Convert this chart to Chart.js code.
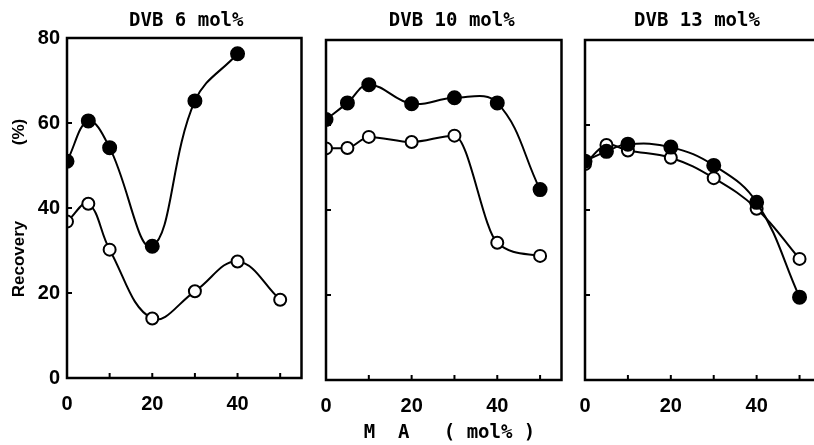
<!DOCTYPE html>
<html>
<head>
<meta charset="utf-8">
<script src="https://cdn.jsdelivr.net/npm/chart.js@4.4.1/dist/chart.umd.min.js"></script>
<style>
  html, body { margin: 0; padding: 0; background: #fff; }
  body { width: 814px; height: 445px; overflow: hidden; position: relative; }
  canvas { position: absolute; top: 0; }
</style>
</head>
<body>
<canvas id="panel-1" width="310" height="445" style="left:0px"></canvas>
<canvas id="panel-2" width="270" height="445" style="left:300px"></canvas>
<canvas id="panel-3" width="270" height="445" style="left:560px"></canvas>
<script>
// MA content (mol%)
const maValues = [0, 5, 10, 20, 30, 40, 50];
const maValuesShort = [0, 5, 10, 20, 30, 40];

const panelTitles = ['DVB 6 mol%', 'DVB 10 mol%', 'DVB 13 mol%'];

// recovery (%) — filled circles / open circles
const dvb6Filled = [51, 60.5, 54.2, 31, 65.2, 76.3];
const dvb6Open = [36.8, 41, 30.2, 14, 20.4, 27.4, 18.4];
const dvb10Filled = [61.3, 65.2, 69.5, 65, 66.4, 65.2, 44.8];
const dvb10Open = [54.5, 54.6, 57.2, 56, 57.5, 32.3, 29.2];
const dvb13Filled = [51.5, 53.8, 55.5, 54.8, 50.5, 41.8, 19.5];
const dvb13Open = [50.8, 55.3, 54, 52.3, 47.5, 40.3, 28.5];

const xTickMarks = [10, 20, 30, 40, 50];
const yTickMarks = [20, 40, 60];

const yTitle = 'Recovery                (%)';
const xTitle = ' M  A   ( mol% )';

function toPoints(xs, ys) {
  return ys.map(function(y, i) {
    return { x: xs[i], y: y };
  });
}

// frame, inward tick marks and panel title
// markers at MA = 0 are cut by the left axis like in the original figure
const framePlugin = {
  id: 'frame',
  beforeDatasetsDraw: function(chart) {
    const a = chart.chartArea;
    chart.ctx.save();
    chart.ctx.beginPath();
    chart.ctx.rect(a.left, a.top - 10, a.right - a.left + 10, a.bottom - a.top + 10);
    chart.ctx.clip();
  },
  afterDatasetsDraw: function(chart) {
    chart.ctx.restore();
  },
  afterDraw: function(chart, args, opts) {
    const ctx = chart.ctx;
    const a = chart.chartArea;
    const xs = chart.scales.x;
    const ys = chart.scales.y;
    ctx.save();
    ctx.strokeStyle = '#000';
    ctx.lineWidth = 2.5;
    ctx.strokeRect(a.left, a.top, a.right - a.left, a.bottom - a.top);
    ctx.lineWidth = 2;
    ctx.beginPath();
    xTickMarks.forEach(function(v) {
      const px = xs.getPixelForValue(v);
      ctx.moveTo(px, a.bottom);
      ctx.lineTo(px, a.bottom - 5);
    });
    yTickMarks.forEach(function(v) {
      const py = ys.getPixelForValue(v);
      ctx.moveTo(a.left, py);
      ctx.lineTo(a.left + 5, py);
    });
    ctx.stroke();
    ctx.fillStyle = '#000';
    ctx.font = 'bold 19px "DejaVu Sans Mono"';
    ctx.textAlign = 'center';
    ctx.textBaseline = 'middle';
    ctx.fillText(opts.text, (a.left + a.right) / 2 + (opts.dx || 0), 21);
    ctx.restore();
  }
};

function makeDataset(xs, ys, filled, monotone) {
  return {
    data: toPoints(xs, ys),
    borderColor: '#000',
    borderWidth: 2,
    pointRadius: filled ? 6.5 : 6,
    pointBorderWidth: 2,
    pointBackgroundColor: filled ? '#000' : '#fff',
    pointBorderColor: '#000',
    tension: 0.4,
    cubicInterpolationMode: monotone ? 'monotone' : 'default',
    clip: false
  };
}

function buildPanel(id, opts) {
  const ctx = document.getElementById(id).getContext('2d');
  return new Chart(ctx, {
    type: 'line',
    data: {
      datasets: [
        makeDataset(opts.filledX, opts.filled, true, false),
        makeDataset(maValues, opts.open, false, opts.openMonotone)
      ]
    },
    plugins: [framePlugin],
    options: {
      responsive: false,
      animation: false,
      layout: {
        padding: { top: opts.top, right: opts.right, bottom: 0, left: 0 }
      },
      plugins: {
        legend: { display: false },
        tooltip: { enabled: false },
        frame: { text: opts.title, dx: opts.titleDx }
      },
      scales: {
        x: {
          type: 'linear',
          min: 0,
          max: 55,
          grid: { display: false, drawTicks: false },
          border: { display: false },
          ticks: {
            stepSize: 10,
            includeBounds: false,
            autoSkip: false,
            maxRotation: 0,
            padding: 14,
            color: '#000',
            font: { family: '"Liberation Sans"', size: 20, weight: 'bold' },
            callback: function(v) {
              return v % 20 === 0 ? v : '';
            }
          },
          title: {
            display: !!opts.xTitle,
            text: opts.xTitle || '',
            color: '#000',
            font: { family: '"DejaVu Sans Mono"', size: 19, weight: 'bold' },
            padding: { top: 0, bottom: 1 }
          },
          afterFit: function(scale) {
            scale.height = opts.xHeight;
          }
        },
        y: {
          min: 0,
          max: 80,
          grid: { display: false, drawTicks: false },
          border: { display: false },
          ticks: {
            display: opts.showY,
            stepSize: 20,
            padding: 7,
            color: '#000',
            font: { family: '"Liberation Sans"', size: 20, weight: 'bold' }
          },
          title: {
            display: opts.showY,
            text: yTitle,
            color: '#000',
            font: { family: '"Liberation Sans"', size: 17, weight: 'bold' },
            padding: { top: 9, bottom: 0 }
          },
          afterFit: function(scale) {
            scale.width = opts.yWidth;
          }
        }
      }
    }
  });
}

buildPanel('panel-1', {
  title: panelTitles[0], titleDx: 2,
  filledX: maValuesShort, filled: dvb6Filled, open: dvb6Open, openMonotone: false,
  top: 38, right: 7, yWidth: 67, xHeight: 67, showY: true
});
buildPanel('panel-2', {
  title: panelTitles[1], titleDx: 8,
  filledX: maValues, filled: dvb10Filled, open: dvb10Open, openMonotone: true,
  top: 40, right: 7, yWidth: 26, xHeight: 65, showY: false, xTitle: xTitle
});
buildPanel('panel-3', {
  title: panelTitles[2], titleDx: -6,
  filledX: maValues, filled: dvb13Filled, open: dvb13Open, openMonotone: false,
  top: 40, right: 9, yWidth: 25, xHeight: 65, showY: false
});
</script>
</body>
</html>
